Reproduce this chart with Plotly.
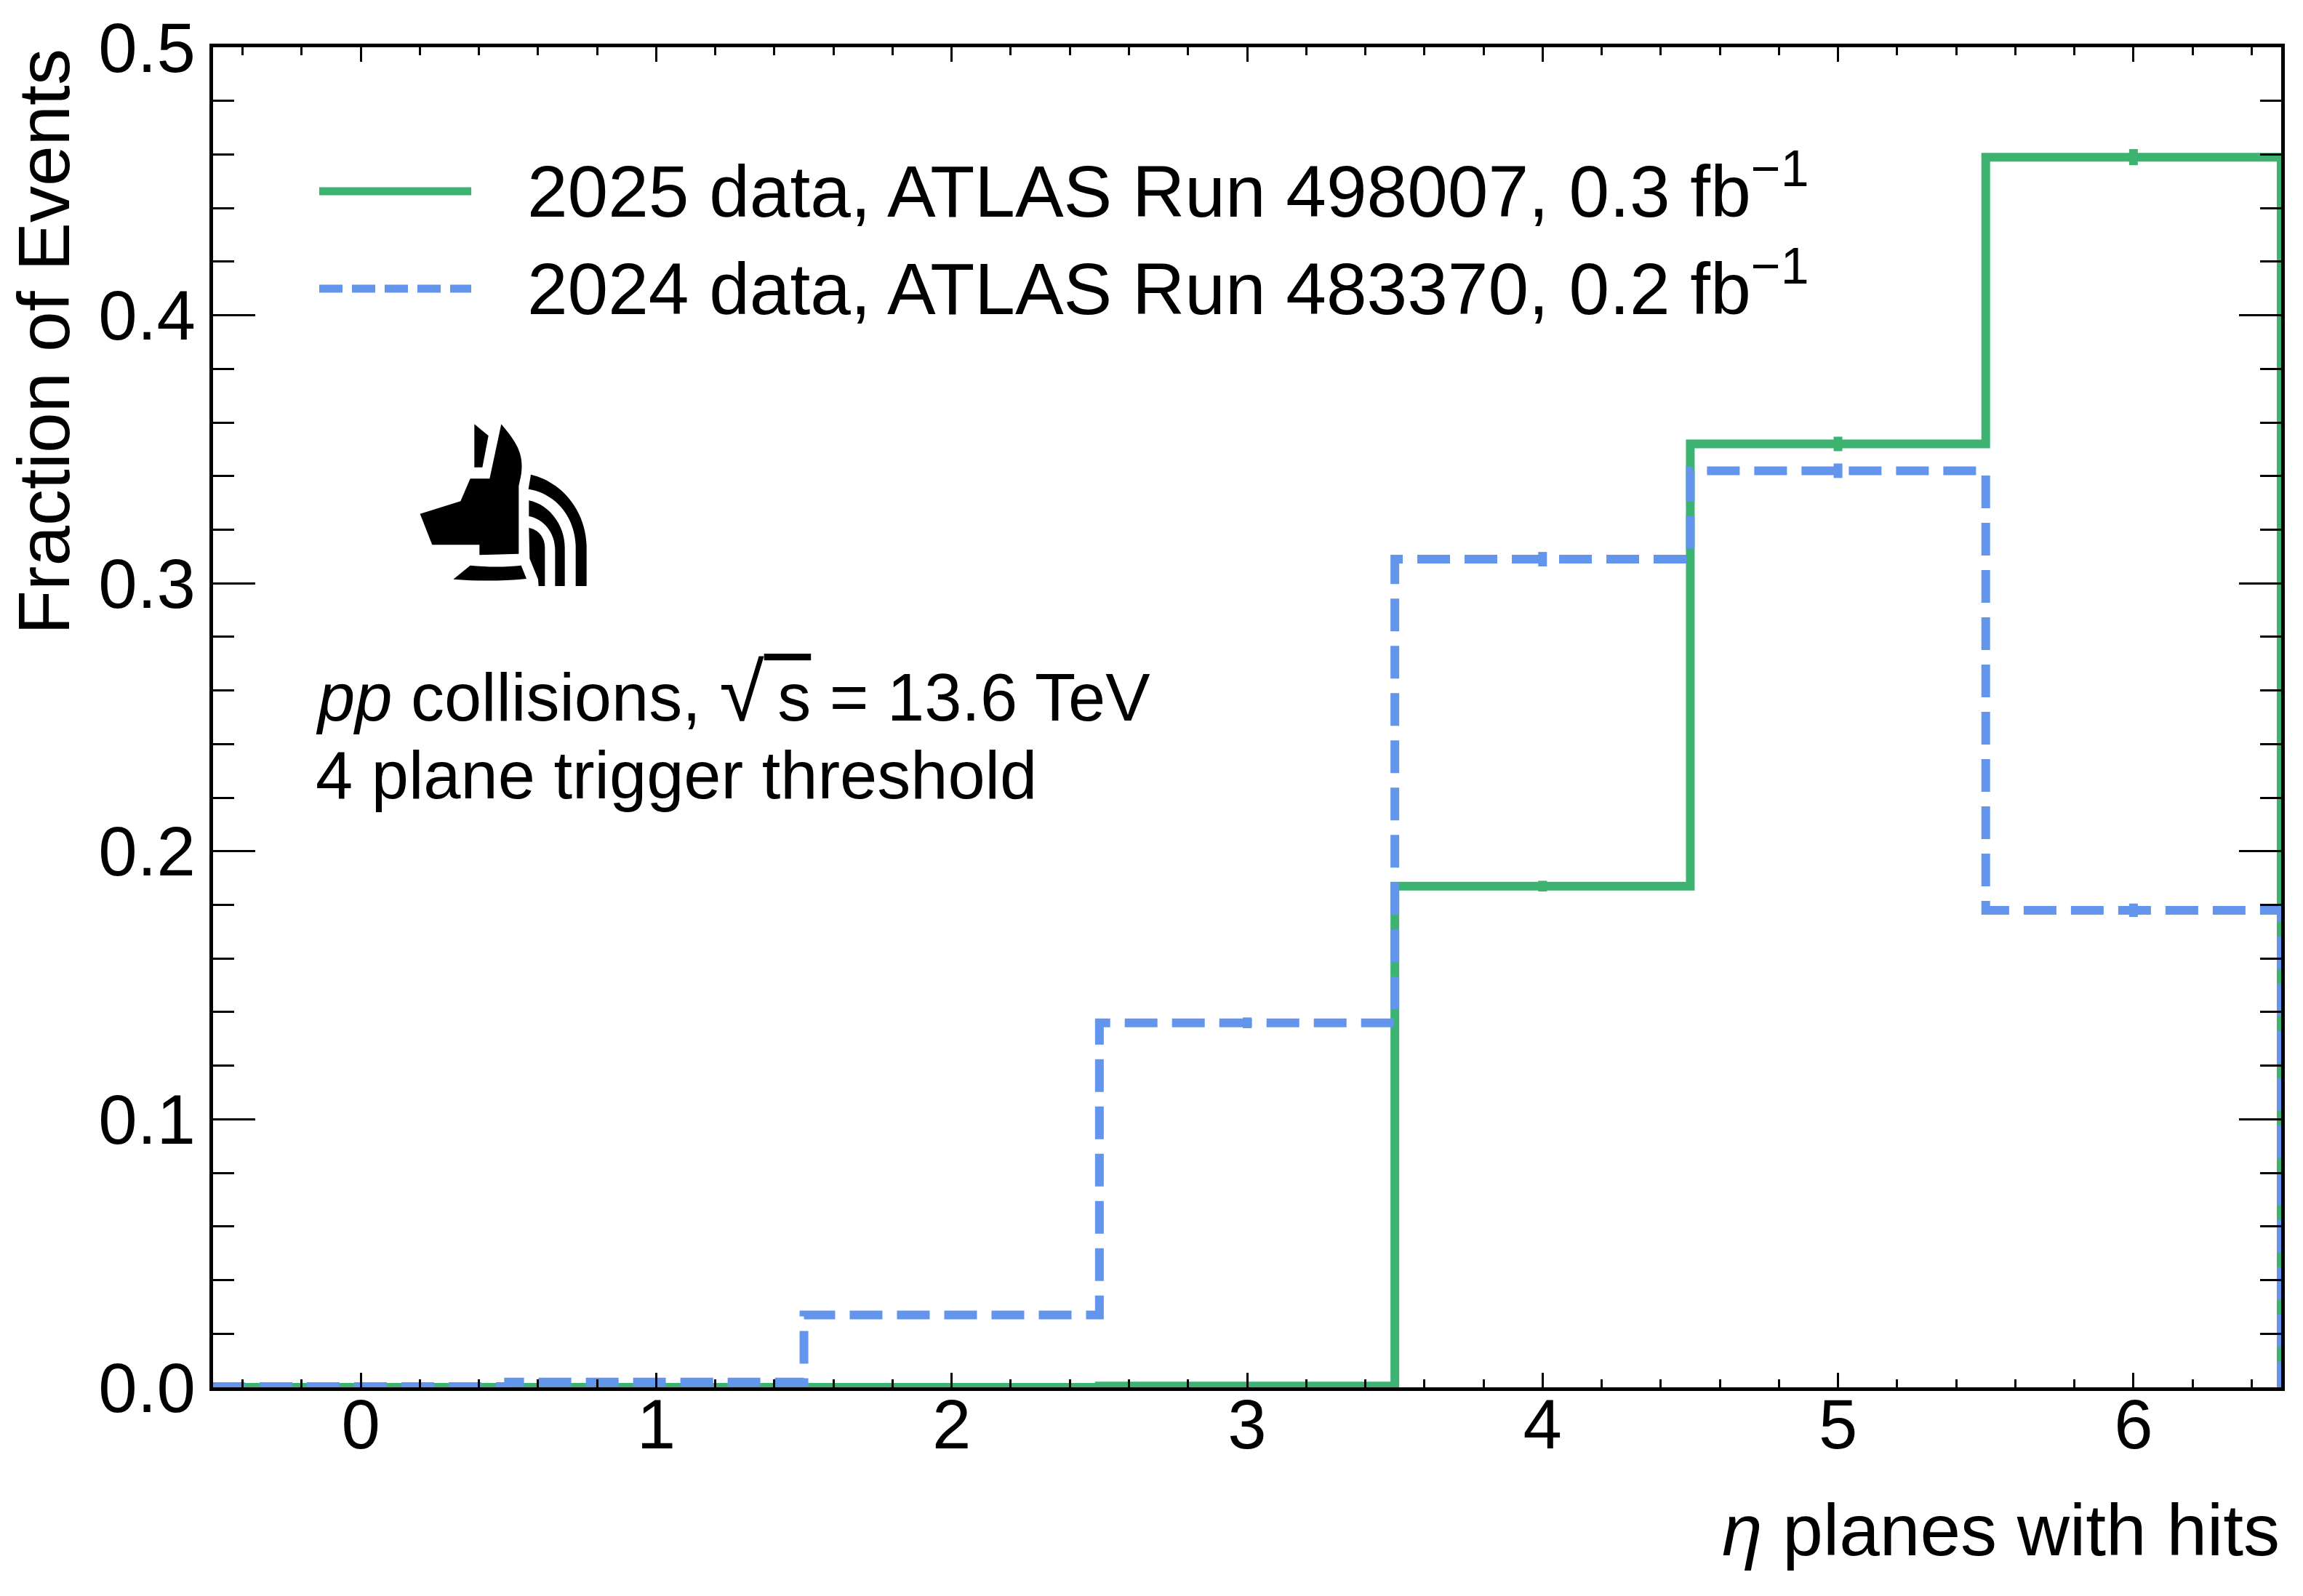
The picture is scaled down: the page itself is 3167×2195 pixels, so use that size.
import re
import numpy as np
import plotly.graph_objects as go

# ---------------- data ----------------
bins = [0, 1, 2, 3, 4, 5, 6]
frac_2025 = [0.0, 0.0, 0.0, 0.0005, 0.187, 0.352, 0.459]
err_2025 = [0.0, 0.0, 0.0, 0.0003, 0.002, 0.0027, 0.003]
frac_2024 = [0.0003, 0.002, 0.027, 0.136, 0.309, 0.342, 0.178]
err_2024 = [0.0002, 0.0004, 0.0012, 0.002, 0.0027, 0.0027, 0.0025]
label_2025 = "2025 data, ATLAS Run 498007, 0.3 fb<sup>−1</sup>"
label_2024 = "2024 data, ATLAS Run 483370, 0.2 fb<sup>−1</sup>"
x_tick_vals = [0, 1, 2, 3, 4, 5, 6]
x_tick_text = ["0", "1", "2", "3", "4", "5", "6"]
y_tick_vals = [0.0, 0.1, 0.2, 0.3, 0.4, 0.5]
y_tick_text = ["0.0", "0.1", "0.2", "0.3", "0.4", "0.5"]
x_title = "<i>η</i> planes with hits"
y_title = "Fraction of Events"
info_lines = ["<i>pp</i> collisions, <span style='font-size:112px'>√</span>"
              "<span style='text-decoration:overline'>\u2009s</span> = 13.6 TeV",
              "4 plane trigger threshold"]

# ---------------- style ----------------
W, H = 3167, 2195
PL, PR, PT, PB = 293, 3137, 65, 1908
GREEN = "#3CB371"
BLUE = "#6495ED"
FONT = "Liberation Sans, Arial, sans-serif"


def px(x):
    return (x - PL) / (PR - PL)


def py(y):
    return (PB - y) / (PB - PT)


def step_xy(vals):
    edges = [b - 0.5 for b in bins] + [bins[-1] + 0.5]
    xs = [edges[0]] + edges[:-1] + [edges[-1], edges[-1]]
    ys = [0.0] + list(vals) + [vals[-1], 0.0]
    return xs, ys


fig = go.Figure()

for vals, errs, col, dash, name in [
    (frac_2025, err_2025, GREEN, "solid", label_2025),
    (frac_2024, err_2024, BLUE, "45px,20px", label_2024),
]:
    sx, sy = step_xy(vals)
    fig.add_trace(go.Scatter(x=sx, y=sy, mode="lines", line_shape="hv",
                             line=dict(color=col, width=12, dash=dash),
                             name=name, showlegend=False, hoverinfo="skip"))
    fig.add_trace(go.Scatter(x=bins, y=vals, mode="markers",
                             marker=dict(size=1, color="rgba(0,0,0,0)"),
                             error_y=dict(type="data", array=errs, visible=True,
                                          color=col, thickness=12, width=0),
                             showlegend=False, hoverinfo="skip"))

axis_common = dict(showline=True, linecolor="black", linewidth=5, mirror="ticks",
                   ticks="inside", tickcolor="black", tickwidth=3,
                   showgrid=False, zeroline=False,
                   tickfont=dict(family=FONT, size=96, color="black"))

fig.update_xaxes(range=[-0.5, 6.5], tickvals=x_tick_vals, ticktext=x_tick_text,
                 ticklen=20, ticklabelstandoff=-36,
                 minor=dict(ticks="inside", dtick=0.2, tick0=0, ticklen=11,
                            tickwidth=3, tickcolor="black", showgrid=False),
                 **axis_common)
fig.update_yaxes(range=[0, 0.5], tickvals=y_tick_vals, ticktext=y_tick_text,
                 ticklen=58,
                 minor=dict(ticks="inside", dtick=0.02, tick0=0, ticklen=29,
                            tickwidth=3, tickcolor="black", showgrid=False),
                 **axis_common)

annotations = []
shapes = []

# legend (manual, to match long line samples)
for yy, col, dash, name in [(263, GREEN, "solid", label_2025),
                            (397, BLUE, "32px,13px", label_2024)]:
    shapes.append(dict(type="line", xref="paper", yref="paper",
                       x0=px(439), x1=px(648), y0=py(yy), y1=py(yy),
                       line=dict(color=col, width=11, dash=dash)))
    annotations.append(dict(xref="paper", yref="paper", x=px(723), y=py(yy - 7),
                            xanchor="left", yanchor="middle", text=name,
                            showarrow=False,
                            font=dict(family=FONT, size=100, color="black")))

for yy, t in zip([952, 1066], info_lines):
    annotations.append(dict(xref="paper", yref="paper", x=px(432), y=py(yy),
                            xanchor="left", yanchor="middle", text=t,
                            showarrow=False,
                            font=dict(family=FONT, size=92, color="black")))

# axis titles, matplotlib-style alignment
annotations.append(dict(xref="paper", yref="paper", x=1.0, y=py(2104),
                        xanchor="right", yanchor="middle", text=x_title,
                        showarrow=False, font=dict(family=FONT, size=100, color="black")))
annotations.append(dict(xref="paper", yref="paper", x=px(60), y=1.0,
                        xanchor="center", yanchor="top", text=y_title, textangle=-90,
                        showarrow=False, font=dict(family=FONT, size=100, color="black")))

# logo (decoration) drawn as filled paths in a local pixel frame
logo_paths = [
    "M457,100 L515,148 L490,278 L457,278 Z",
    "M568,100 C610,150 650,200 652,260 C655,300 645,330 640,355 L640,635 L478,640 "
    "L478,598 L283,598 L233,470 L400,418 L440,325 L520,325 Z",
    "M440,683 C510,690 590,690 650,683 L672,738 C570,748 470,748 370,740 Z",
    "M690,308 C810,335 915,450 920,600 L920,768 L875,768 L875,600 C870,480 790,385 680,368 Z",
    "M682,415 C760,430 830,510 830,610 L830,768 L790,768 L790,620 C790,545 740,490 682,480 Z",
    "M682,528 C720,535 748,565 748,610 L748,768 L722,768 L720,740 L685,655 Z",
]


def convert_path(p):
    def rep(m):
        lx, ly = float(m.group(1)), float(m.group(2))
        fx = 500 + lx / 3.0
        fy = 550 + ly / 3.0
        return f"{px(fx):.5f},{py(fy):.5f}"
    return re.sub(r"(-?\d+(?:\.\d+)?),(-?\d+(?:\.\d+)?)", rep, p)


for p in logo_paths:
    shapes.append(dict(type="path", xref="paper", yref="paper", path=convert_path(p),
                       fillcolor="black", line=dict(width=0), layer="above"))

fig.update_layout(width=W, height=H,
                  margin=dict(l=PL, r=W - PR, t=PT, b=H - PB, pad=0),
                  paper_bgcolor="white", plot_bgcolor="white",
                  showlegend=False, annotations=annotations, shapes=shapes,
                  font=dict(family=FONT, color="black"))

fig.write_html("out.html")
